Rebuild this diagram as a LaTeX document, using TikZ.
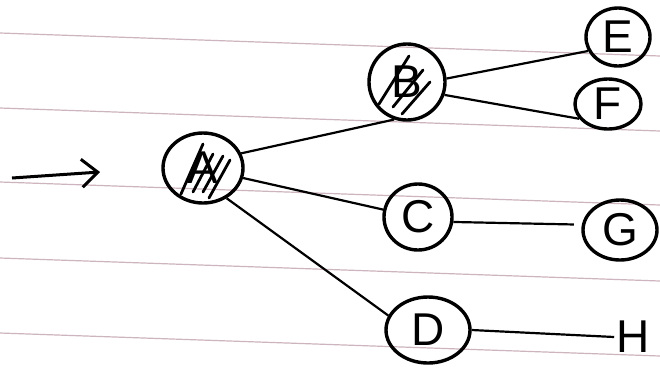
\documentclass[tikz,border=0pt]{standalone}
\usepackage{fontspec}
\setmainfont{Liberation Sans}
\usetikzlibrary{shapes.geometric,arrows.meta,calc}
\definecolor{ruled}{RGB}{205,180,190}
\begin{document}
\begin{tikzpicture}[x=1pt,y=-1pt,
  vert/.style={ellipse,draw=black,line width=3.4pt,inner sep=0pt,
    font=\fontsize{46}{50}\selectfont},
  edge/.style={line width=2.2pt,black},
  strike/.style={line width=2.8pt,black,line cap=round},
  paper/.style={line width=1.2pt,ruled}]
\useasboundingbox (0,0) rectangle (660,368);
\fill[white] (0,0) rectangle (660,368);
% ruled lines of the paper
\foreach \y in {33,108,182,258,333}
  \draw[paper] (0,\y) -- (660,\y+23);
% nodes
\node[vert,minimum width=80pt,minimum height=70pt] (A) at (203,168) {A};
\node[vert,minimum width=76pt,minimum height=76pt] (B) at (407,82) {B};
\node[vert,minimum width=68pt,minimum height=66pt] (C) at (418,217) {C};
\node[vert,minimum width=84pt,minimum height=66pt] (D) at (428,330) {D};
\node[vert,minimum width=64pt,minimum height=58pt] (E) at (618,37) {E};
\node[vert,minimum width=66pt,minimum height=50pt] (F) at (608,104) {F};
\node[vert,minimum width=74pt,minimum height=60pt] (G) at (620,230) {G};
\node[inner sep=2pt,font=\fontsize{46}{50}\selectfont] (H) at (633,337) {H};
% strike-through of A and B
\draw[strike] ($(A)+(-22,26)$) -- ($(A)+(0,-24)$);
\draw[strike] ($(A)+(-10,24)$) -- ($(A)+(10,-14)$);
\draw[strike] ($(A)+(0,24)$) -- ($(A)+(20,-12)$);
\draw[strike] ($(A)+(6,30)$) -- ($(A)+(27,-8)$);
\draw[strike] ($(B)+(-28,22)$) -- ($(B)+(2,-26)$);
\draw[strike] ($(B)+(-14,25)$) -- ($(B)+(16,-12)$);
\draw[strike] ($(B)+(-5,32)$) -- ($(B)+(23,0)$);
% edges
\draw[edge] (A.21) -- (B.251);
\draw[edge] (A.346) -- (C.168);
\draw[edge] (A.308) -- (D.160);
\draw[edge] (B.5) -- (E.205);
\draw[edge] (B.341) -- (F.207);
\draw[edge,shorten >=8pt] (C.352) -- (G.172);
\draw[edge] (D.east) -- (H.west);
% entry arrow
\coordinate (s) at (12,178);
\coordinate (t) at (100,172);
\draw[line width=3pt,-{Straight Barb[length=16pt,width=28pt,line width=3pt]}] (s) -- (t);
\end{tikzpicture}
\end{document}
